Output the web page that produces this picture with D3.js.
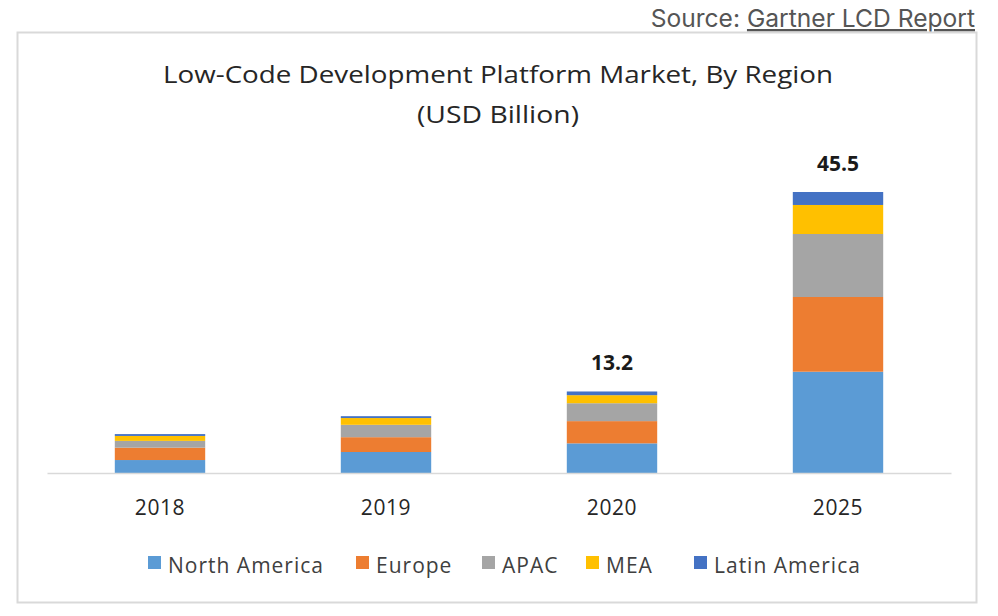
<!DOCTYPE html>
<html>
<head>
<meta charset="utf-8">
<script src="https://cdn.jsdelivr.net/npm/d3@7"></script>
<style>
  body { margin: 0; background: #fff; }
  svg { display: block; }
</style>
</head>
<body>
<div id="root"></div>
<script>
// values (USD Billion)
const years = ["2018", "2019", "2020", "2025"];
const regions = ["North America", "Europe", "APAC", "MEA", "Latin America"];
const northAmerica = [2.1, 3.4, 4.8, 16.4];
const europe       = [2.0, 2.4, 3.6, 12.1];
const apac         = [1.1, 2.0, 2.9, 10.2];
const mea          = [0.8, 1.1, 1.3, 4.7];
const latinAmerica = [0.3, 0.3, 0.6, 2.1];
const totalLabels  = ["", "", "13.2", "45.5"];
const colors = ["#5b9bd5", "#ed7d31", "#a5a5a5", "#ffc000", "#4472c4"];

const font = "'Open Sans', 'DejaVu Sans', sans-serif";
const W = 998, H = 616;
const svg = d3.select("#root").append("svg")
  .attr("width", W)
  .attr("height", H);

// source line
const src = svg.append("text")
  .attr("x", 975).attr("y", 27)
  .attr("text-anchor", "end")
  .style("font-family", "Inter, 'Open Sans', sans-serif")
  .style("font-size", "24.6px")
  .style("fill", "#555");
src.append("tspan").text("Source: ");
src.append("tspan").text("Gartner LCD Report").style("text-decoration", "underline");

// chart frame
svg.append("rect")
  .attr("x", 17.5).attr("y", 32.5)
  .attr("width", 959).attr("height", 570)
  .attr("fill", "#fff")
  .attr("stroke", "#d9d9d9")
  .attr("stroke-width", 2);

const title = svg.append("text")
  .attr("text-anchor", "middle")
  .style("font-family", font)
  .style("font-size", "23px")
  .style("fill", "#262626");
title.append("tspan").attr("x", 498).attr("y", 83)
  .attr("textLength", 670).attr("lengthAdjust", "spacingAndGlyphs")
  .text("Low-Code Development  Platform Market,  By Region");
title.append("tspan").attr("x", 498).attr("y", 123)
  .attr("textLength", 162).attr("lengthAdjust", "spacingAndGlyphs")
  .text("(USD Billion)");

const table = years.map((y, i) => ({
  year: y,
  "North America": northAmerica[i],
  "Europe": europe[i],
  "APAC": apac[i],
  "MEA": mea[i],
  "Latin America": latinAmerica[i],
  label: totalLabels[i]
}));

const stacked = d3.stack().keys(regions)(table);

const x = d3.scaleBand()
  .domain(years)
  .range([47, 951])
  .paddingInner(0.6)
  .paddingOuter(0.3);

const y = d3.scaleLinear()
  .domain([0, 45.5])
  .range([473, 192]);

const z = d3.scaleOrdinal().domain(regions).range(colors);

svg.append("g").selectAll("g")
  .data(stacked)
  .enter().append("g")
  .attr("fill", d => z(d.key))
  .selectAll("rect")
  .data(d => d)
  .enter().append("rect")
  .attr("x", d => x(d.data.year))
  .attr("y", d => y(d[1]))
  .attr("height", d => y(d[0]) - y(d[1]))
  .attr("width", x.bandwidth());

// baseline + category labels
const xAxis = svg.append("g")
  .attr("transform", "translate(0," + y(0) + ")")
  .call(d3.axisBottom(x).tickSize(0).tickPadding(27));
xAxis.select(".domain").attr("stroke", "#d9d9d9").attr("stroke-width", 1.5);
xAxis.selectAll("text")
  .style("font-family", font)
  .style("font-size", "21px")
  .style("letter-spacing", "0.6px")
  .style("fill", "#262626");

// total labels
svg.append("g").selectAll("text")
  .data(table.filter(d => d.label))
  .enter().append("text")
  .attr("x", d => x(d.year) + x.bandwidth() / 2)
  .attr("y", d => y(+d.label) - 21)
  .attr("text-anchor", "middle")
  .style("font-family", font)
  .style("font-size", "21px")
  .style("font-weight", "bold")
  .style("fill", "#1a1a1a")
  .text(d => d.label);

// legend
const legendX = [148, 356, 482, 586, 694];
const legend = svg.append("g").selectAll("g")
  .data(regions)
  .enter().append("g")
  .attr("transform", (d, i) => "translate(" + legendX[i] + ",565)");
legend.append("rect")
  .attr("x", 0).attr("y", -9)
  .attr("width", 13).attr("height", 13)
  .attr("fill", d => z(d));
legend.append("text")
  .attr("x", 20).attr("y", 8)
  .style("font-family", font)
  .style("font-size", "21px")
  .style("letter-spacing", "1px")
  .style("fill", "#404040")
  .text(d => d);
</script>
</body>
</html>
